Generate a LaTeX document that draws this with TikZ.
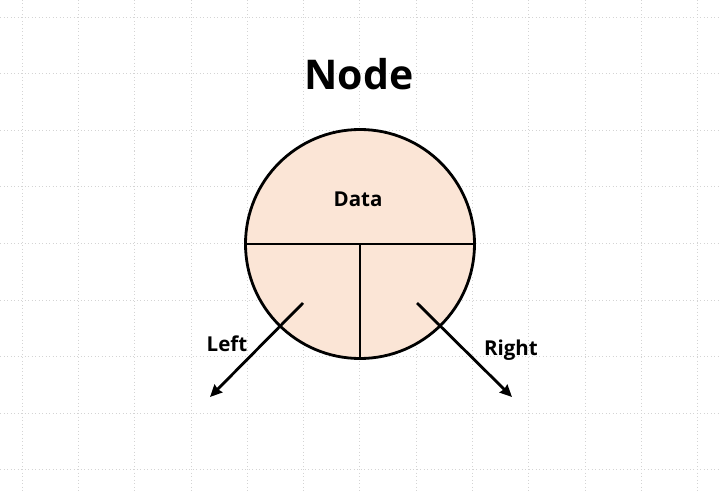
\documentclass[tikz,border=0pt]{standalone}
\usepackage{fontspec}
\setmainfont{Open Sans}
\usetikzlibrary{arrows.meta}
\definecolor{peach}{HTML}{FBE5D6}
\definecolor{gridc}{HTML}{D4D4D4}
\begin{document}
\begin{tikzpicture}[x=1pt,y=-1pt,
  gridline/.style={gridc, line width=0.8pt, dash pattern=on 1pt off 2.5pt},
  edge/.style={black, line width=2.8pt},
  arr/.style={edge, -{Stealth[length=12pt,width=11pt,inset=1pt]}},
  lbl/.style={font=\bfseries\fontsize{20.5}{24}\selectfont, inner sep=0pt}]
\useasboundingbox (0,0) rectangle (720,492);
\fill[white] (0,0) rectangle (720,492);
% grid
\foreach \i in {0,...,12} {\draw[gridline] ({22+56.3*\i},0) -- ({22+56.3*\i},492);}
\foreach \j in {0,...,8} {\draw[gridline] (0,{17+56.6*\j}) -- (720,{17+56.6*\j});}
% circle
\node[circle, draw=black, line width=2.8pt, fill=peach, minimum size=229pt, inner sep=0pt] (c) at (360,244) {};
\draw[edge] (c.west) -- (c.east);
\draw[edge] (c.center) -- (c.south);
% texts
\node[font=\bfseries\fontsize{41}{48}\selectfont, inner sep=0pt] (title) at (359,74) {Node};
\node[lbl] (data) at (358,199) {Data};
\node[lbl] (left) at (227,344) {Left};
\node[lbl] (right) at (511,350) {Right};
% arrows
\coordinate (ls) at (303,303);
\coordinate (le) at (210,397);
\coordinate (rs) at (417,303);
\coordinate (re) at (512,397);
\draw[arr] (ls) -- (le);
\draw[arr] (rs) -- (re);
\end{tikzpicture}
\end{document}
